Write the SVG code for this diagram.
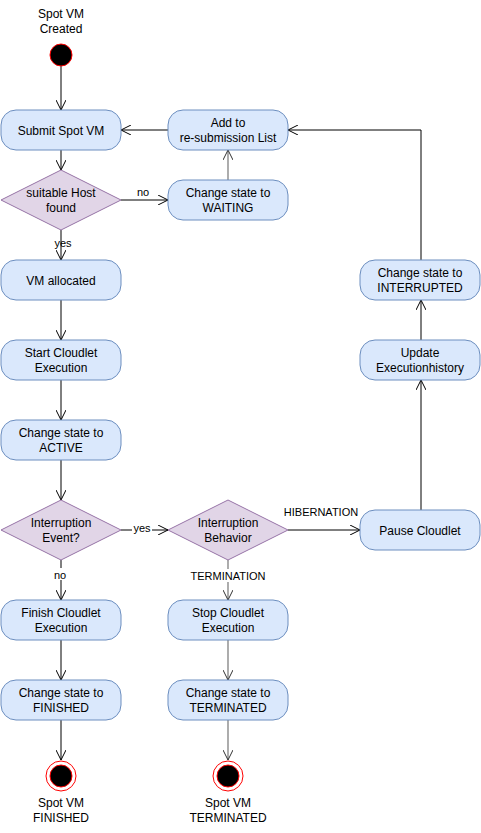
<svg xmlns="http://www.w3.org/2000/svg" width="481" height="833" viewBox="0 0 481 833">
<defs>
<style>
text{font-family:"Liberation Sans",Arial,sans-serif;font-size:12px;fill:#000;text-anchor:middle}
.box{fill:#dae8fc;stroke:#6c8ebf;stroke-width:1}
.dia{fill:#e1d5e7;stroke:#9673a6;stroke-width:1}
.c{fill:none;stroke:#000;stroke-width:1;marker-end:url(#a)}
.g{fill:none;stroke:#808080;stroke-width:1.3;marker-end:url(#ag)}
.lbl{font-size:11px}
</style>
<marker id="a" viewBox="0 0 10 10" refX="10" refY="5" markerWidth="10" markerHeight="10" markerUnits="userSpaceOnUse" orient="auto">
<path d="M0,0 L10,5 L0,10" fill="none" stroke="#000" stroke-width="1"/>
</marker>
<marker id="ag" viewBox="0 0 10 10" refX="10" refY="5" markerWidth="10" markerHeight="10" markerUnits="userSpaceOnUse" orient="auto">
<path d="M0,0 L10,5 L0,10" fill="none" stroke="#333" stroke-width="1"/>
</marker>
</defs>
<rect width="481" height="833" fill="#fff"/>
<g id="connectors">
<path class="c" d="M61,66 V110"/>
<path class="c" d="M61,150 V170"/>
<path class="c" d="M121,200 H168"/>
<path class="c" d="M61,230 V260"/>
<path class="g" d="M228,180 V150"/>
<path class="c" d="M168,130 H121"/>
<path class="c" d="M421,260 V130 H288"/>
<path class="c" d="M61,300 V340"/>
<path class="c" d="M61,380 V420"/>
<path class="c" d="M61,460 V500"/>
<path class="c" d="M121,530 H168"/>
<path class="c" d="M288,530 H360"/>
<path class="c" d="M421,510 V380"/>
<path class="c" d="M421,340 V300"/>
<path class="c" d="M61,560 V600"/>
<path class="g" d="M228,560 V600"/>
<path class="c" d="M61,640 V680"/>
<path class="g" d="M228,640 V680"/>
<path class="c" d="M61,720 V760"/>
<path class="g" d="M228,720 V760"/>
<text class="lbl" x="143" y="196">no</text>
<text class="lbl" x="63" y="247">yes</text>
<rect x="132" y="521" width="20" height="12" fill="#fff"/>
<text class="lbl" x="142" y="532">yes</text>
<text class="lbl" x="321" y="516">HIBERNATION</text>
<rect x="52" y="568" width="18" height="12" fill="#fff"/>
<text class="lbl" x="60" y="579">no</text>
<rect x="190" y="569" width="76" height="13" fill="#fff"/>
<text class="lbl" x="228" y="580">TERMINATION</text>
</g>
<g id="start">
<text x="61" y="18">Spot VM</text>
<text x="61" y="33">Created</text>
<circle cx="61" cy="55" r="11" fill="#000" stroke="#ff0000" stroke-width="1"/>
</g>
<g id="submit"><rect class="box" x="1" y="110" width="120" height="40" rx="15"/><text x="61" y="135">Submit Spot VM</text></g>
<g id="host"><path class="dia" d="M61,170 L121,200 L61,230 L1,200 Z"/><text x="61" y="197">suitable Host</text><text x="61" y="212">found</text></g>
<g id="waiting"><rect class="box" x="168" y="180" width="120" height="40" rx="15"/><text x="228" y="197">Change state to</text><text x="228" y="212">WAITING</text></g>
<g id="addlist"><rect class="box" x="168" y="110" width="120" height="40" rx="15"/><text x="228" y="127">Add to</text><text x="228" y="142">re-submission List</text></g>
<g id="allocated"><rect class="box" x="1" y="260" width="120" height="40" rx="15"/><text x="61" y="285">VM allocated</text></g>
<g id="startcl"><rect class="box" x="1" y="340" width="120" height="40" rx="15"/><text x="61" y="357">Start Cloudlet</text><text x="61" y="372">Execution</text></g>
<g id="active"><rect class="box" x="1" y="420" width="120" height="40" rx="15"/><text x="61" y="437">Change state to</text><text x="61" y="452">ACTIVE</text></g>
<g id="intevent"><path class="dia" d="M61,500 L121,530 L61,560 L1,530 Z"/><text x="61" y="527">Interruption</text><text x="61" y="542">Event?</text></g>
<g id="intbeh"><path class="dia" d="M228,500 L288,530 L228,560 L168,530 Z"/><text x="228" y="527">Interruption</text><text x="228" y="542">Behavior</text></g>
<g id="pause"><rect class="box" x="360" y="510" width="120" height="40" rx="15"/><text x="420" y="535">Pause Cloudlet</text></g>
<g id="update"><rect class="box" x="360" y="340" width="120" height="40" rx="15"/><text x="420" y="357">Update</text><text x="420" y="372">Executionhistory</text></g>
<g id="interrupted"><rect class="box" x="360" y="260" width="120" height="40" rx="15"/><text x="420" y="277">Change state to</text><text x="420" y="292">INTERRUPTED</text></g>
<g id="finish"><rect class="box" x="1" y="600" width="120" height="40" rx="15"/><text x="61" y="617">Finish Cloudlet</text><text x="61" y="632">Execution</text></g>
<g id="stop"><rect class="box" x="168" y="600" width="120" height="40" rx="15"/><text x="228" y="617">Stop Cloudlet</text><text x="228" y="632">Execution</text></g>
<g id="finished"><rect class="box" x="1" y="680" width="120" height="40" rx="15"/><text x="61" y="697">Change state to</text><text x="61" y="712">FINISHED</text></g>
<g id="terminated"><rect class="box" x="168" y="680" width="120" height="40" rx="15"/><text x="228" y="697">Change state to</text><text x="228" y="712">TERMINATED</text></g>
<g id="endfinished">
<circle cx="61" cy="776" r="15" fill="#fff" stroke="#ff0000" stroke-width="1"/>
<circle cx="61" cy="776" r="11" fill="#000" stroke="#ff0000" stroke-width="1"/>
<text x="61" y="807">Spot VM</text><text x="61" y="822">FINISHED</text>
</g>
<g id="endterminated">
<circle cx="228" cy="776" r="15" fill="#fff" stroke="#ff0000" stroke-width="1"/>
<circle cx="228" cy="776" r="11" fill="#000" stroke="#ff0000" stroke-width="1"/>
<text x="228" y="807">Spot VM</text><text x="228" y="822">TERMINATED</text>
</g>
</svg>
